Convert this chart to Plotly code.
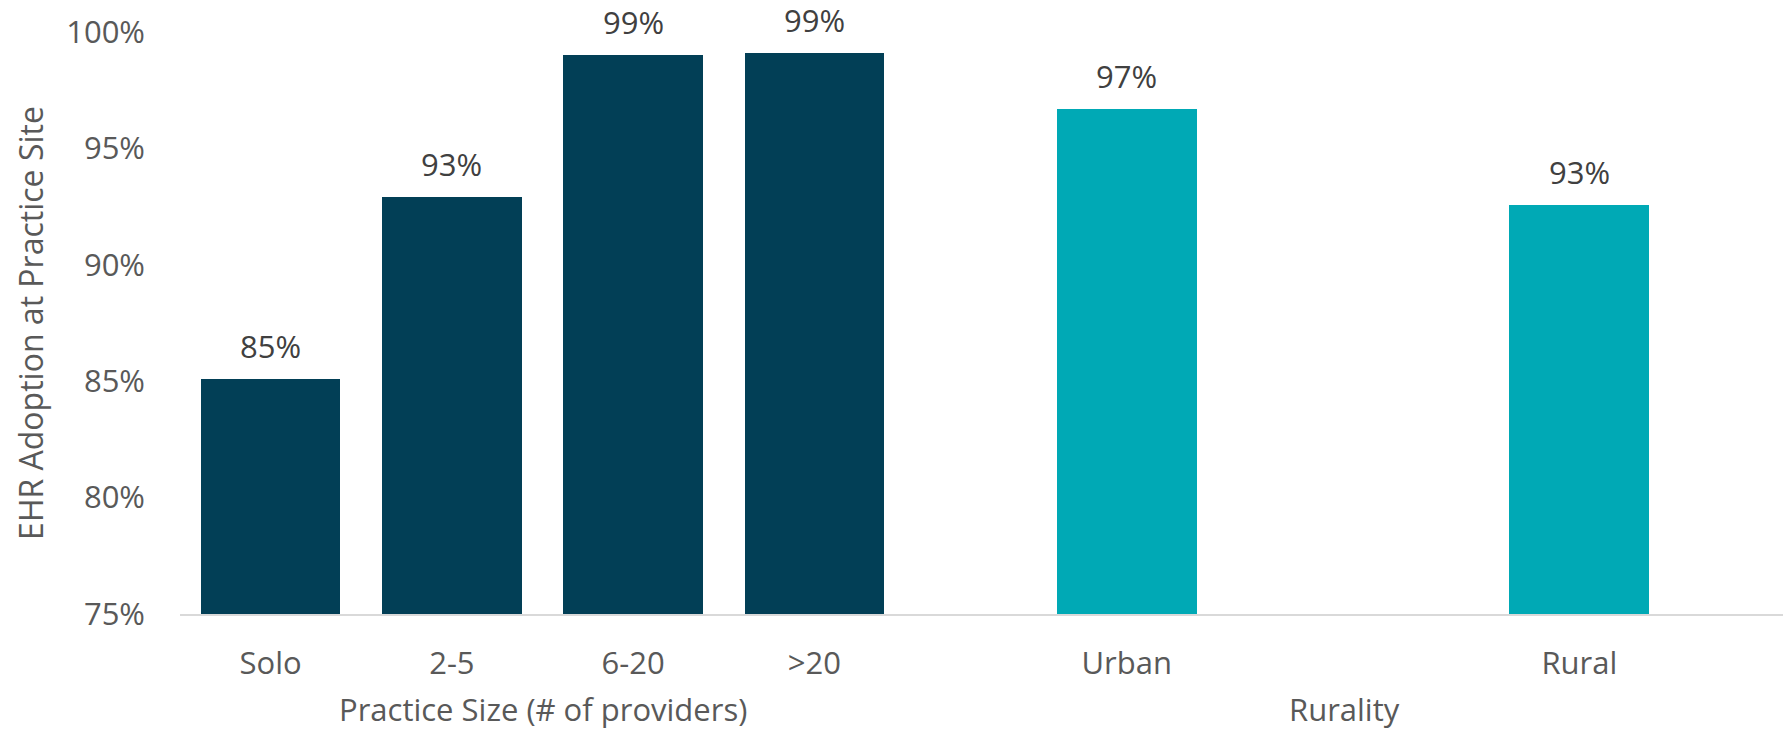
import plotly.graph_objects as go

# EHR adoption by practice size and by rurality (percent of practice sites)
size_labels = ["Solo", "2-5", "6-20", ">20"]
size_values = [85.1, 92.9, 99.0, 99.1]

rural_labels = ["Urban", "Rural"]
rural_values = [96.7, 92.55]

y_ticks = [75, 80, 85, 90, 95, 100]

DARK = "#023F56"
TEAL = "#00A9B5"
FONT = "Open Sans"
TICK_GRAY = "#595959"
LABEL_GRAY = "#404040"

W, H = 1783, 733
left_px, split_px = 180, 905
top_px, bottom_px = 32, 119


def pct(v):
    return f"{int(v + 0.5)}%"


fig = go.Figure()
fig.add_trace(go.Bar(
    x=size_labels, y=size_values, xaxis="x", yaxis="y",
    marker=dict(color=DARK, line=dict(width=0)), width=0.77,
    showlegend=False, hoverinfo="skip",
))
fig.add_trace(go.Bar(
    x=rural_labels, y=rural_values, xaxis="x2", yaxis="y",
    marker=dict(color=TEAL, line=dict(width=0)), width=0.31,
    showlegend=False, hoverinfo="skip",
))

# value labels above each bar
annotations = []
for axis, labels, values in (("x", size_labels, size_values),
                             ("x2", rural_labels, rural_values)):
    for lab, val in zip(labels, values):
        annotations.append(dict(
            x=lab, y=val, xref=axis, yref="y", text=pct(val),
            showarrow=False, yanchor="middle", yshift=33,
            font=dict(size=31, color=LABEL_GRAY, family=FONT),
        ))

# group titles under the category labels
for axis, title in (("x domain", "Practice Size (# of providers)"),
                    ("x2 domain", "Rurality")):
    annotations.append(dict(
        x=0.5, y=0, xref=axis, yref="paper", text=title,
        showarrow=False, yanchor="middle", yshift=-95, borderpad=0,
        font=dict(size=31, color=TICK_GRAY, family=FONT),
    ))

plot_w = W - left_px
split = (split_px - left_px) / plot_w

axis_common = dict(
    showgrid=False, zeroline=False, showline=True, linecolor="#D9D9D9",
    linewidth=2, ticks="", tickfont=dict(size=31, color=TICK_GRAY, family=FONT),
    ticklabelstandoff=21,
)

fig.update_layout(
    width=W, height=H,
    margin=dict(l=left_px, r=0, t=top_px, b=bottom_px),
    plot_bgcolor="white", paper_bgcolor="white",
    bargap=0,
    xaxis=dict(domain=[0, split], range=[-0.5, 3.5], type="category",
               **axis_common),
    xaxis2=dict(domain=[split, 1], range=[-0.49, 1.45], type="category",
                anchor="y", **axis_common),
    yaxis=dict(range=[75, 100], tickvals=y_ticks,
               ticktext=[f"{t}%" for t in y_ticks],
               showgrid=False, zeroline=False, showline=False,
               tickfont=dict(size=31, color=TICK_GRAY, family=FONT),
               ticklabelstandoff=34,
               title=dict(text="EHR Adoption at Practice Site", standoff=12,
                          font=dict(size=32, color=TICK_GRAY, family=FONT))),
    annotations=annotations,
)

fig.write_html("out.html")
